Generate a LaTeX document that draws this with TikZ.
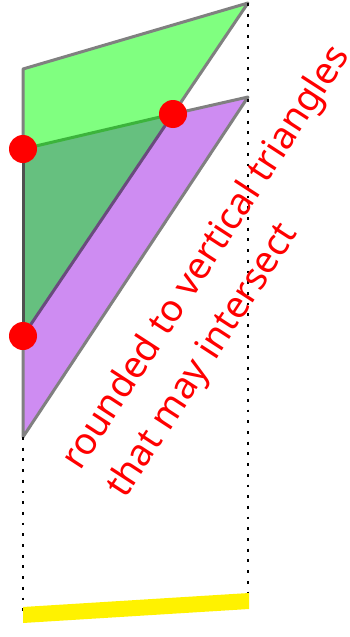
\documentclass[tikz,border=0pt]{standalone}
\usepackage{fontspec}
\setmainfont{Noto Sans}
\usetikzlibrary{calc}
\definecolor{LightGreen}{HTML}{80FF80}
\definecolor{Lilac}{HTML}{CE8CF2}
\definecolor{MixGreen}{HTML}{66C07F}
\definecolor{EdgeGreen}{HTML}{3CB43C}
\definecolor{EdgePurple}{HTML}{6A4A7E}
\definecolor{EdgeDark}{HTML}{505050}

\begin{document}
\begin{tikzpicture}[x=1pt,y=-1pt,
  edge/.style={draw=gray,line width=3pt,line join=round},
  dotline/.style={line width=2.8pt,dash pattern=on 2.8pt off 7.9pt},
  hit/.style={fill=red},
  note/.style={text=red,inner sep=0pt,rotate=57,anchor=base west,
    font=\fontsize{37.3}{52}\selectfont}]
\useasboundingbox (0,0) rectangle (349,637);
% corners
\coordinate (gLeft) at (23,69);
\coordinate (gTop) at (248,3);
\coordinate (pTop) at (248,97);
\coordinate (pLow) at (23,437);
\coordinate (cutA) at (23,149);
\coordinate (cutB) at (173,114);
\coordinate (cutC) at (23,336);
% triangles
\fill[Lilac] (cutA) -- (pTop) -- (pLow) -- cycle;
\fill[LightGreen] (gLeft) -- (gTop) -- (cutC) -- cycle;
\fill[MixGreen] (cutA) -- (cutB) -- (cutC) -- cycle;
\draw[edge] (cutA) -- (gLeft) -- (gTop) -- (cutB);
\draw[edge] (cutB) -- (pTop) -- (pLow) -- (cutC);
\draw[line width=3pt,EdgeGreen] (cutA) -- (cutB);
\draw[line width=3pt,EdgePurple] (cutB) -- (cutC);
\draw[line width=3pt,EdgeDark] (cutA) -- (cutC);
% projection
\coordinate (baseL) at (23,615);
\coordinate (baseR) at (248,601);
\draw[dotline] (pLow) -- (baseL);
\draw[dotline] (gTop) -- (baseR);
\fill[yellow] (23,607) -- (249,593) -- (249,609) -- (23,623) -- cycle;
% intersections
\fill[hit] (cutA) circle (14);
\fill[hit] (cutB) circle (14);
\fill[hit] (cutC) circle (14);
\node[note] (lineA) at (80,472) {rounded to vertical triangles};
\node[note] (lineB) at (125,500) {that may intersect};
\end{tikzpicture}
\end{document}
